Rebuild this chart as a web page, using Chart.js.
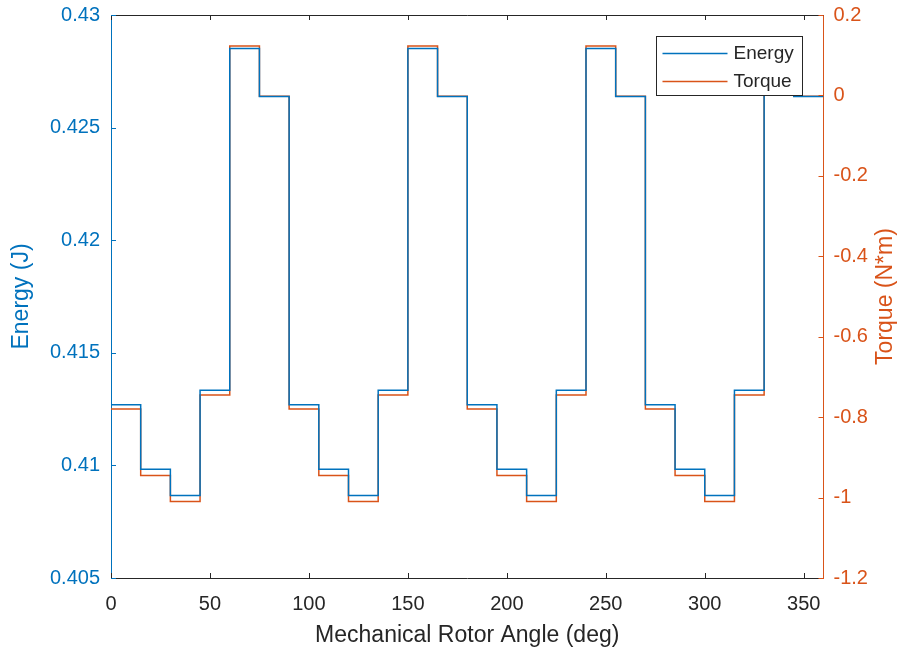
<!DOCTYPE html>
<html lang="en">
<head>
<meta charset="UTF-8">
<title>Energy and Torque vs Mechanical Rotor Angle</title>
<script src="https://cdn.jsdelivr.net/npm/chart.js"></script>
<style>
  html, body { margin: 0; padding: 0; background: #fff; }
  #wrap { width: 907px; height: 649px; position: relative; }
</style>
</head>
<body>
<div id="wrap"><canvas id="chart"></canvas></div>
<script>
// angle where each 15 deg step starts, last entry closes the final step
const angles = [0, 15, 30, 45, 60, 75, 90, 105, 120, 135, 150, 165,
                180, 195, 210, 225, 240, 255, 270, 285, 300, 315, 330, 345, 360];
// co-energy (J) per step
const energy = [0.41269, 0.40983, 0.40866, 0.41334, 0.42851, 0.42638,
                0.41269, 0.40983, 0.40866, 0.41334, 0.42851, 0.42638,
                0.41269, 0.40983, 0.40866, 0.41334, 0.42851, 0.42638,
                0.41269, 0.40983, 0.40866, 0.41334, 0.42851, 0.42638, 0.42638];
// torque (N*m) per step
const torque = [-0.780, -0.945, -1.010, -0.745, 0.123, -0.002,
                -0.780, -0.945, -1.010, -0.745, 0.123, -0.002,
                -0.780, -0.945, -1.010, -0.745, 0.123, -0.002,
                -0.780, -0.945, -1.010, -0.745, 0.123, -0.002, -0.002];

const angleTicks = [0, 50, 100, 150, 200, 250, 300, 350];
const energyTicks = [0.405, 0.41, 0.415, 0.42, 0.425, 0.43];
const torqueTicks = [-1.2, -1, -0.8, -0.6, -0.4, -0.2, 0, 0.2];

const BLUE = '#0072BD';
const ORANGE = '#D95319';
const DARK = '#262626';
const FONT = "'Liberation Sans', Arial, Helvetica, sans-serif";
const TITLE_SIZE = 23;

Chart.defaults.font.family = FONT;

// matlab style: ticks point into the axes, plus the top box line
const inwardTicks = {
  id: 'inwardTicks',
  afterDatasetsDraw(chart) {
    const { ctx, chartArea: a, scales } = chart;
    const len = 5;
    ctx.save();
    ctx.lineWidth = 1;
    function seg(x1, y1, x2, y2) {
      ctx.beginPath(); ctx.moveTo(x1, y1); ctx.lineTo(x2, y2); ctx.stroke();
    }
    ctx.strokeStyle = DARK;
    seg(a.left, Math.round(a.top) + 0.5, a.right, Math.round(a.top) + 0.5);
    scales.x.ticks.forEach(t => {
      const px = Math.round(scales.x.getPixelForValue(t.value)) + 0.5;
      seg(px, a.bottom, px, a.bottom - len);
      seg(px, a.top, px, a.top + len);
    });
    ctx.strokeStyle = BLUE;
    scales.yE.ticks.forEach(t => {
      const py = Math.round(scales.yE.getPixelForValue(t.value)) + 0.5;
      seg(a.left, py, a.left + len, py);
    });
    ctx.strokeStyle = ORANGE;
    scales.yT.ticks.forEach(t => {
      const py = Math.round(scales.yT.getPixelForValue(t.value)) + 0.5;
      seg(a.right, py, a.right - len, py);
    });
    ctx.restore();
  }
};

// boxed legend in the upper right corner, drawn over the lines,
// and the right axis title which reads bottom to top like the left one
const boxLegend = {
  id: 'boxLegend',
  afterDraw(chart) {
    const { ctx, chartArea: a } = chart;
    const x0 = Math.round(a.right - 168) + 0.5;
    const y0 = Math.round(a.top + 21) + 0.5;
    const w = 146, h = 59;
    ctx.save();
    ctx.fillStyle = '#fff';
    ctx.fillRect(x0, y0, w, h);
    ctx.strokeStyle = DARK;
    ctx.lineWidth = 1;
    ctx.strokeRect(x0, y0, w, h);
    ctx.font = '19px ' + FONT;
    ctx.textBaseline = 'middle';
    chart.data.datasets.forEach((ds, i) => {
      const y = y0 + 17 + i * 28;
      ctx.strokeStyle = ds.borderColor;
      ctx.lineWidth = 1.5;
      ctx.beginPath(); ctx.moveTo(x0 + 6, y); ctx.lineTo(x0 + 71, y); ctx.stroke();
      ctx.fillStyle = DARK;
      ctx.fillText(ds.label, x0 + 77, y);
    });

    ctx.translate(a.right + 62, (a.top + a.bottom) / 2);
    ctx.rotate(-Math.PI / 2);
    ctx.font = TITLE_SIZE + 'px ' + FONT;
    ctx.fillStyle = ORANGE;
    ctx.textAlign = 'center';
    ctx.fillText('Torque (N*m)', 0, 0);
    ctx.restore();
  }
};

const fmt = v => String(+v.toFixed(3));
const noPadY = s => { s.paddingTop = 0; s.paddingBottom = 0; };

new Chart(document.getElementById('chart'), {
  type: 'line',
  data: {
    datasets: [
      {
        label: 'Energy',
        data: angles.map((a, i) => ({ x: a, y: energy[i] })),
        yAxisID: 'yE',
        borderColor: BLUE,
        borderWidth: 1.5,
        stepped: true,
        pointRadius: 0,
        fill: false
      },
      {
        label: 'Torque',
        data: angles.map((a, i) => ({ x: a, y: torque[i] })),
        yAxisID: 'yT',
        borderColor: ORANGE,
        borderWidth: 1.5,
        stepped: true,
        pointRadius: 0,
        fill: false
      }
    ]
  },
  options: {
    responsive: true,
    maintainAspectRatio: false,
    animation: false,
    layout: { padding: { top: 15, left: 0, right: 0, bottom: 0 } },
    plugins: { legend: { display: false }, tooltip: { enabled: false } },
    scales: {
      x: {
        type: 'linear',
        min: 0,
        max: 360,
        afterBuildTicks: s => { s.ticks = angleTicks.map(v => ({ value: v })); },
        afterFit: s => { s.height = 71; s.paddingLeft = 0; s.paddingRight = 0; },
        ticks: { color: DARK, font: { size: 20 }, padding: 14, maxRotation: 0, autoSkip: false, callback: fmt },
        grid: { display: false, drawTicks: false },
        border: { color: DARK, width: 1 },
        title: {
          display: true, text: 'Mechanical Rotor Angle (deg)', color: DARK,
          font: { size: TITLE_SIZE }, padding: { top: 0, bottom: 0 }
        }
      },
      yE: {
        type: 'linear',
        position: 'left',
        min: 0.405,
        max: 0.43,
        afterBuildTicks: s => { s.ticks = energyTicks.map(v => ({ value: v })); },
        afterFit: s => { s.width = 111; noPadY(s); },
        ticks: { color: BLUE, font: { size: 20 }, padding: 11, callback: fmt },
        grid: { display: false, drawTicks: false },
        border: { color: BLUE, width: 1 },
        title: {
          display: true, text: 'Energy (J)', color: BLUE,
          font: { size: TITLE_SIZE }, padding: { top: 8, bottom: 0 }
        }
      },
      yT: {
        type: 'linear',
        position: 'right',
        min: -1.2,
        max: 0.2,
        afterBuildTicks: s => { s.ticks = torqueTicks.map(v => ({ value: v })); },
        afterFit: s => { s.width = 83.5; noPadY(s); },
        ticks: { color: ORANGE, font: { size: 20 }, padding: 10, callback: fmt },
        grid: { display: false, drawTicks: false },
        border: { color: ORANGE, width: 1 }
      }
    }
  },
  plugins: [inwardTicks, boxLegend]
});
</script>
</body>
</html>
